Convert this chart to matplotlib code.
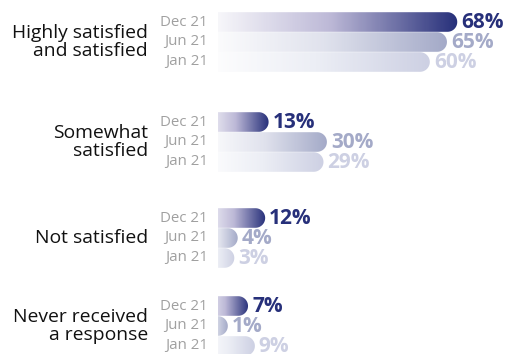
import numpy as np
import matplotlib
matplotlib.use("Agg")
import matplotlib.pyplot as plt
from matplotlib.path import Path
from matplotlib.patches import PathPatch
from matplotlib.colors import LinearSegmentedColormap

plt.rcParams['font.family'] = ['Open Sans', 'DejaVu Sans']

# ---- data ----
categories = ["Highly satisfied\nand satisfied", "Somewhat\nsatisfied", "Not satisfied",
              "Never received\na response"]
periods = ["Dec 21", "Jun 21", "Jan 21"]
dec21 = [68, 13, 12, 7]
jun21 = [65, 30, 4, 1]
jan21 = [60, 29, 3, 9]
series = [dec21, jun21, jan21]

# ---- style / layout ----
end_colors = ["#27307a", "#a4aac8", "#cdd0e3"]
mid_colors = ["#bdb9d7", "#e0e2ed", "#eceef5"]
W, H, DPI = 507, 354, 100
bar_left_px = 218
px_per_pct = 3.43
cap_px = 6.0
bar_h = 19.6
group_mid = [42, 142, 238, 326]
row_step = 20

fig = plt.figure(figsize=(W / DPI, H / DPI), dpi=DPI)
ax = fig.add_axes([bar_left_px / W, 0, (W - bar_left_px) / W, 1])
ax.set_xlim(0, (W - bar_left_px) / px_per_pct)
ax.set_ylim(H, 0)
ax.axis('off')

cmaps = [LinearSegmentedColormap.from_list(f"c{i}", ["#ffffff", mid_colors[i], end_colors[i]])
         for i in range(3)]

PT = 72 / DPI  # points per pixel

for g, cat in enumerate(categories):
    ax.annotate(cat, xy=(0, group_mid[g]), xytext=(-70 * PT, 0), textcoords='offset points',
                ha='right', va='center', multialignment='right', fontsize=13.9,
                color='#111111', linespacing=1.07)
    for r in range(3):
        v = series[r][g]
        yc = group_mid[g] + (r - 1) * row_step
        width_px = px_per_pct * v + cap_px
        end_data = width_px / px_per_pct
        rad = bar_h / 2
        xs = max(width_px - rad, 0) / px_per_pct
        rx = rad / px_per_pct
        top, bot = yc - bar_h / 2, yc + bar_h / 2
        t = np.linspace(-np.pi / 2, np.pi / 2, 40)
        verts = [(0, top), (xs, top)] + [(xs + rx * np.cos(a), yc + rad * np.sin(a)) for a in t] + \
                [(0, bot), (0, top)]
        codes = [Path.MOVETO] + [Path.LINETO] * (len(verts) - 2) + [Path.CLOSEPOLY]
        patch = PathPatch(Path(verts, codes), facecolor='none', edgecolor='none')
        ax.add_patch(patch)
        a0 = 16 / (16 + width_px)
        grad = np.linspace(a0, 1, 256).reshape(1, -1)
        im = ax.imshow(grad, cmap=cmaps[r], vmin=0, vmax=1, aspect='auto',
                       extent=(0, max(end_data, rx), bot, top), interpolation='bilinear',
                       zorder=2 + (2 - r))
        im.set_clip_path(patch)
        ax.annotate(f"{v}%", xy=(max(end_data, rx), yc), xytext=(4 * PT, 0),
                    textcoords='offset points', ha='left', va='center', fontsize=15,
                    fontweight='bold', color=end_colors[r])
        ax.annotate(periods[r], xy=(0, yc), xytext=(-10 * PT, 0), textcoords='offset points',
                    ha='right', va='center', fontsize=10.8, color='#a0a0a0')

ax.set_xlim(0, (W - bar_left_px) / px_per_pct)
ax.set_ylim(H, 0)
fig.savefig("out.png", dpi=DPI)
